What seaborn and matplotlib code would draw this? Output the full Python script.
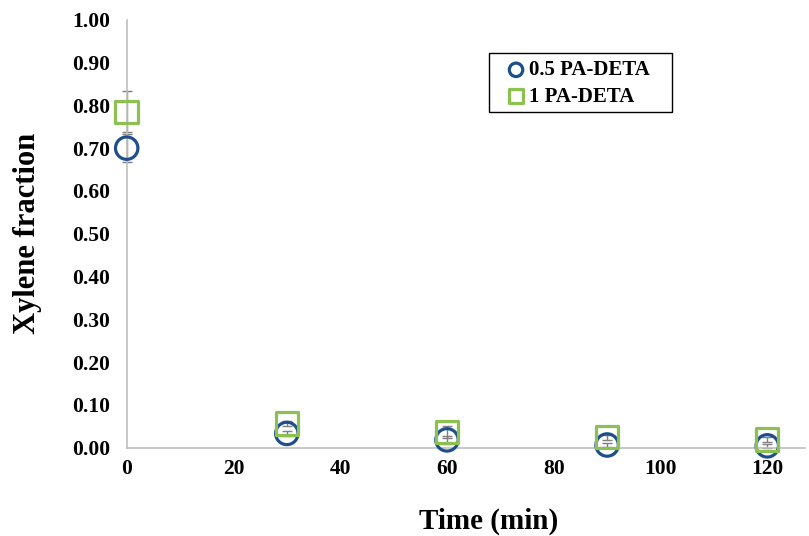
import matplotlib
matplotlib.use("Agg")
import matplotlib.pyplot as plt
from matplotlib.patches import Rectangle
import seaborn as sns
import pandas as pd
import numpy as np

time_min = [0, 30, 60, 90, 120]
pa05_values = [0.700, 0.033, 0.018, 0.006, 0.004]
pa05_err = [0.033, 0.006, 0.010, 0.005, 0.004]
pa1_values = [0.785, 0.056, 0.036, 0.024, 0.019]
pa1_err = [0.048, 0.006, 0.014, 0.006, 0.006]
series_names = ["0.5 PA-DETA", "1 PA-DETA"]
x_ticks = [0, 20, 40, 60, 80, 100, 120]
y_ticks = [0.0, 0.1, 0.2, 0.3, 0.4, 0.5, 0.6, 0.7, 0.8, 0.9, 1.0]

sns.set_style("white")
plt.rcParams['font.family'] = ['Liberation Serif', 'DejaVu Serif']
plt.rcParams['font.weight'] = 'bold'
plt.rcParams['text.color'] = 'black'
plt.rcParams['axes.labelcolor'] = 'black'
plt.rcParams['xtick.color'] = 'black'
plt.rcParams['ytick.color'] = 'black'

df = pd.DataFrame({
    "Time": time_min * 2,
    "Value": pa05_values + pa1_values,
    "Err": pa05_err + pa1_err,
    "Series": [series_names[0]] * 5 + [series_names[1]] * 5,
})

fig = plt.figure(figsize=(8.09, 5.36), dpi=100)
ax = fig.add_axes([0.1566, 0.165, 0.838, 0.798])

colors = {series_names[0]: "#1F4E8C", series_names[1]: "#8CC152"}
markers = {series_names[0]: "o", series_names[1]: "s"}

for name in series_names:
    sub = df[df["Series"] == name]
    eb = ax.errorbar(sub["Time"], sub["Value"], yerr=sub["Err"], fmt="none",
                     ecolor="#7F7F7F", elinewidth=1, capsize=3.5, capthick=1, zorder=2)
    for art in eb.lines[1] + eb.lines[2]:
        art.set_clip_on(False)

for name in series_names:
    sub = df[df["Series"] == name]
    sns.scatterplot(data=sub, x="Time", y="Value", ax=ax, marker=markers[name],
                    s=260, facecolor="none", edgecolor=colors[name],
                    linewidth=2.3, label=name, zorder=3, clip_on=False)

ax.set_xlim(0, 127)
ax.set_ylim(0, 1.0)
ax.set_xticks(x_ticks)
ax.set_yticks(y_ticks)
ax.set_yticklabels([f"{v:.2f}" for v in y_ticks])
ax.tick_params(axis="y", labelsize=15.5, length=0, pad=12)
ax.tick_params(axis="x", labelsize=15.5, length=0, pad=8)
for lab in ax.get_xticklabels() + ax.get_yticklabels():
    lab.set_fontweight("bold")

for s in ["top", "right"]:
    ax.spines[s].set_visible(False)
for s in ["left", "bottom"]:
    ax.spines[s].set_color("#BFBFBF")
    ax.spines[s].set_linewidth(1.2)

ax.set_xlabel("Time (min)", fontsize=21, fontweight="bold")
ax.xaxis.set_label_coords(0.534, -0.14)
ax.set_ylabel("Xylene fraction", fontsize=22, fontweight="bold")
ax.yaxis.set_label_coords(-0.125, 0.5)

leg = ax.legend(loc="upper left", bbox_to_anchor=(0.6134, 0.9011),
                bbox_transform=fig.transFigure, fontsize=15,
                frameon=False, handletextpad=0.0, borderpad=0.35,
                labelspacing=0.3, markerscale=0.6, handlelength=1.2,
                borderaxespad=0)
for t in leg.get_texts():
    t.set_fontweight("bold")

# legend frame box
fig.patches.append(Rectangle((0.6044, 0.791), 0.2262, 0.110,
                             transform=fig.transFigure, fill=False,
                             edgecolor="black", linewidth=1.0))

fig.savefig("out.png", dpi=100)
